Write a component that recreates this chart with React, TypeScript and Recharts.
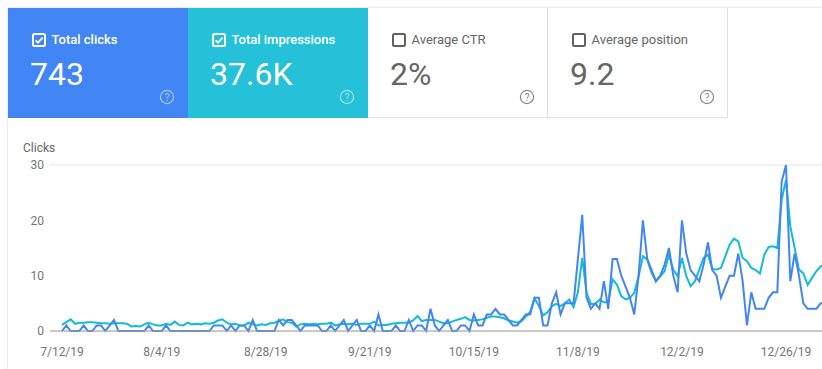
import { LineChart, Line, XAxis, YAxis, CartesianGrid } from 'recharts';

// daily values, 7/12/19 onwards
const clicks = [
  0, 1, 0, 0, 0, 1, 0, 0, 1, 1, 0, 1, 2, 0, 0, 0, 0, 0, 0, 0,
  1, 0, 0, 0, 1, 0, 0, 0, 0, 0, 0, 0, 0, 0, 0, 1, 1, 1, 0, 1,
  0, 1, 1, 0, 2, 0, 0, 0, 0, 0, 2, 1, 2, 2, 1, 0, 1, 1, 1, 1,
  0, 0, 1, 0, 1, 2, 0, 1, 2, 0, 0, 1, 0, 3, 0, 0, 0, 1, 0, 0,
  2, 0, 1, 1, 0, 4, 1, 0, 1, 2, 0, 0, 1, 1, 0, 3, 1, 1, 3, 3,
  4, 3, 3, 2, 1, 1, 2, 3, 3, 6, 6, 1, 1, 5, 7, 3, 5, 5, 5, 13,
  21, 6, 4, 5, 4, 9, 4, 13, 13, 10, 8, 6, 3, 10, 20, 13, 11, 9, 10, 12,
  15, 10, 7, 20, 14, 11, 10, 9, 12, 16, 11, 10, 6, 8, 10, 10, 14, 9, 1, 7,
  4, 4, 4, 6, 7, 7, 27, 30, 9, 14, 10, 5, 4, 4, 4, 5, 5,
];

const impressions = [
  44, 64, 84, 52, 60, 60, 64, 64, 60, 56, 56, 52, 56, 56, 56, 52, 32, 36, 32, 48,
  60, 48, 40, 40, 52, 44, 68, 44, 40, 60, 48, 52, 48, 56, 52, 60, 76, 84, 60, 48,
  52, 40, 40, 60, 48, 40, 48, 44, 56, 60, 72, 84, 64, 60, 32, 48, 52, 48, 52, 48,
  52, 52, 60, 40, 48, 52, 48, 52, 44, 52, 52, 52, 68, 40, 44, 44, 52, 56, 60, 60,
  60, 76, 108, 72, 80, 80, 80, 68, 56, 56, 68, 80, 88, 100, 80, 76, 80, 84, 96, 104,
  104, 100, 92, 76, 68, 60, 72, 104, 140, 236, 180, 112, 136, 180, 196, 180, 200, 228, 172, 280,
  528, 276, 196, 196, 228, 208, 208, 372, 336, 252, 228, 240, 276, 396, 540, 516, 420, 360, 396, 432,
  552, 444, 396, 528, 396, 324, 360, 444, 528, 552, 448, 444, 456, 540, 624, 668, 648, 528, 504, 456,
  440, 416, 552, 608, 612, 600, 948, 1092, 756, 600, 444, 416, 332, 384, 432, 468, 480,
];

const tickLabels = ['7/12/19', '8/4/19', '8/28/19', '9/21/19', '10/15/19', '11/8/19', '12/2/19', '12/26/19'];
const clickTicks = [0, 10, 20, 30];

const startDate = new Date(2019, 6, 12);
const dates = clicks.map((_, i) => {
  const d = new Date(startDate.getFullYear(), startDate.getMonth(), startDate.getDate() + i);
  return `${d.getMonth() + 1}/${d.getDate()}/${String(d.getFullYear()).slice(2)}`;
});

const data = dates.map((date, i) => ({ date, clicks: clicks[i], impressions: impressions[i] }));

const cards = [
  { label: 'Total clicks', value: '743', bg: '#4285f4', active: true },
  { label: 'Total impressions', value: '37.6K', bg: '#24c1d8', active: true },
  { label: 'Average CTR', value: '2%', bg: '#fff', active: false },
  { label: 'Average position', value: '9.2', bg: '#fff', active: false },
];

const font = 'Roboto, "Noto Sans", Arial, sans-serif';

const CheckBox = ({ active }: { active: boolean }) => (
  <svg width={14} height={14} style={{ position: 'absolute', left: 24, top: 25 }}>
    <rect x={1} y={1} width={12} height={12} rx={1.5} fill="none"
      stroke={active ? '#fff' : '#616161'} strokeWidth={2} />
    {active && (
      <path d="M3.6 7.3 L6 9.6 L10.6 4.7" fill="none" stroke="#fff" strokeWidth={1.8} />
    )}
  </svg>
);

const HelpIcon = ({ active }: { active: boolean }) => {
  const c = active ? 'rgba(255,255,255,0.55)' : '#8a8a8a';
  return (
    <svg width={16} height={16} style={{ position: 'absolute', left: 151, top: 81 }}>
      <circle cx={8} cy={8} r={6.6} fill="none" stroke={c} strokeWidth={1.2} />
      <text x={8} y={11.5} textAnchor="middle" fontSize={10} fontFamily={font} fill={c}>?</text>
    </svg>
  );
};

export default function App() {
  return (
    <div style={{ position: 'fixed', left: 0, top: 0, width: 822, height: 369, overflow: 'hidden', background: '#fff', fontFamily: font }}>
      <div style={{ position: 'absolute', left: 8, top: 8, width: 900, height: 500, boxShadow: '0 0 2px rgba(0,0,0,0.22)', background: '#fff' }} />

      {cards.map((c, i) => (
        <div key={c.label} style={{
          position: 'absolute', left: 8 + i * 180, top: 8, width: 180, height: 110,
          background: c.bg, boxSizing: 'border-box',
          borderRight: c.active ? 'none' : '1px solid #e0e0e0',
          borderBottom: c.active ? 'none' : '1px solid #e0e0e0',
        }}>
          <CheckBox active={c.active} />
          <div style={{
            position: 'absolute', left: 43.5, top: 24, fontSize: 13, lineHeight: '16px',
            color: c.active ? '#fff' : '#666', fontWeight: c.active ? 500 : 400, whiteSpace: 'nowrap',
          }}>{c.label}</div>
          <div style={{
            position: 'absolute', left: 22, top: 50, fontSize: 32, lineHeight: '32px',
            color: c.active ? '#fff' : '#666', fontWeight: 400, whiteSpace: 'nowrap',
          }}>{c.value}</div>
          <HelpIcon active={c.active} />
        </div>
      ))}

      <div style={{ position: 'absolute', left: 23, top: 141, fontSize: 12, lineHeight: '14px', color: '#666' }}>Clicks</div>

      <div style={{ position: 'absolute', left: 0, top: 155 }}>
        <LineChart width={825} height={214} data={data} margin={{ top: 10, right: 0, bottom: 8, left: 0 }}>
          <CartesianGrid vertical={false} stroke="#e6e6e6" />
          <XAxis
            dataKey="date"
            ticks={tickLabels}
            interval={0}
            padding={{ left: 12, right: 0 }}
            height={30}
            tickSize={0}
            tickMargin={16}
            axisLine={{ stroke: '#9e9e9e' }}
            tickLine={false}
            tick={{ fill: '#757575', fontSize: 12, fontFamily: font }}
          />
          <YAxis
            yAxisId="clicks"
            domain={[0, 30]}
            ticks={clickTicks}
            width={50}
            tickSize={4}
            axisLine={false}
            tickLine={false}
            tick={{ fill: '#757575', fontSize: 12, fontFamily: font }}
          />
          <YAxis yAxisId="imp" orientation="right" domain={[0, 1200]} hide />
          <Line yAxisId="imp" type="linear" dataKey="impressions" stroke="#12bdd4" strokeWidth={2}
            dot={false} isAnimationActive={false} />
          <Line yAxisId="clicks" type="linear" dataKey="clicks" stroke="#4285f4" strokeWidth={2}
            dot={false} isAnimationActive={false} />
        </LineChart>
      </div>
    </div>
  );
}
